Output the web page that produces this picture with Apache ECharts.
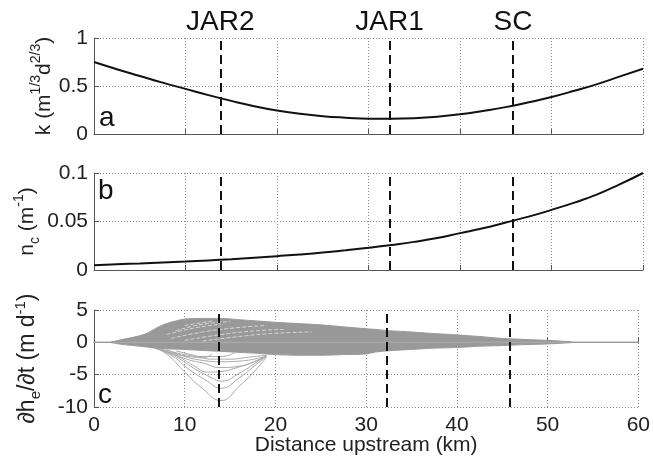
<!DOCTYPE html>
<html lang="en">
<head>
    <meta charset="utf-8">
    <title>k, nc and dhe/dt along the river</title>
    <script src="https://cdn.jsdelivr.net/npm/echarts@6/dist/echarts.min.js"></script>
    <style>
        html, body { margin: 0; padding: 0; background: #fff; }
        #main { width: 653px; height: 462px; }
    </style>
</head>
<body>
<div id="main"></div>
<script type="text/javascript">
    // 数据
    var distanceKm = [0, 2.5, 5, 7.5, 10, 12.5, 15, 17.5, 20, 22.5, 25, 27.5, 30,
        32.5, 35, 37.5, 40, 42.5, 45, 47.5, 50, 52.5, 55, 57.5, 60];
    var kValues = [0.75, 0.675, 0.605, 0.535, 0.47, 0.405, 0.345, 0.29, 0.245, 0.21, 0.185, 0.17, 0.16,
        0.16, 0.165, 0.18, 0.205, 0.24, 0.28, 0.33, 0.385, 0.45, 0.52, 0.60, 0.68];
    var ncValues = [0.005, 0.006, 0.0068, 0.0077, 0.0087, 0.0099, 0.0112, 0.0127, 0.0143, 0.016, 0.018, 0.0204, 0.023,
        0.0258, 0.029, 0.033, 0.038, 0.043, 0.049, 0.055, 0.062, 0.0695, 0.078, 0.0885, 0.1];

    // envelope of dhe/dt curves
    var envKm = [0, 1.5, 3, 5, 6, 7, 8, 9, 10, 12, 14, 16, 18, 20, 22.5, 25, 27.5, 30, 31, 32.5,
        35, 37.5, 40, 42.5, 45, 47.5, 50, 52.5, 53, 60];
    var envUpper = [0, 0, 0.4, 1.0, 1.5, 2.3, 2.9, 3.3, 3.6, 3.7, 3.7, 3.5, 3.3, 3.1, 2.9, 2.7, 2.4, 2.1, 2.0, 1.8,
        1.6, 1.35, 1.15, 0.9, 0.6, 0.45, 0.3, 0.1, 0, 0];
    var envLower = [0, 0, -0.3, -0.6, -0.75, -0.9, -1.0, -1.05, -1.1, -1.25, -1.4, -1.55, -1.7, -1.9, -2.0, -2.0, -1.9, -1.8, -1.5, -1.3,
        -1.1, -0.9, -0.8, -0.6, -0.5, -0.35, -0.25, -0.05, 0, 0];
    var baselineKm = [0, 60];
    var baselineVal = [0, 0];

    // individual curves dipping below the envelope
    var dipCurves = [
        [[6.5, -0.8], [8, -1.8], [10, -4.6], [12, -7.2], [14, -9.0], [16, -6.8], [18, -4.0], [19, -2.3]],
        [[6.5, -0.8], [8.5, -2.0], [10.5, -4.2], [12.5, -6.0], [14, -7.1], [16, -5.5], [18, -3.3], [19, -2.2]],
        [[7, -0.9], [9, -2.2], [11, -4.0], [13, -5.5], [14, -6.0], [16, -4.8], [18, -3.0], [19, -2.1]],
        [[7, -0.9], [9, -2.0], [11, -3.6], [12.5, -4.6], [14, -4.5], [16, -3.8], [18, -2.8], [19, -2.1]],
        [[7.5, -1.0], [10, -2.5], [12, -3.2], [14, -3.9], [16, -3.7], [18, -2.8], [19, -2.1]],
        [[8, -1.1], [10, -2.2], [12, -2.8], [14, -3.0], [16, -2.9], [18, -2.5], [19, -2.1]],
        [[7, -1.0], [9, -1.8], [11, -2.3], [12, -2.4], [13, -1.8]],
        [[8, -1.2], [10, -1.9], [12, -2.2], [14, -2.2], [15.5, -1.6]],
        [[9, -1.3], [11, -2.0], [13, -2.6], [15, -2.6], [17, -2.3], [19, -2.0]]
    ];
    // lighter curves seen inside the band
    var streakCurves = [
        [[8, 1.2], [11, 2.2], [14, 2.8]],
        [[9, 1.8], [12, 2.8], [15, 3.2]],
        [[8.5, 0.6], [12, 1.6], [16, 2.3], [19, 2.6]],
        [[10, 0.3], [14, 1.2], [18, 1.8], [21, 2.0]],
        [[12, 0.2], [16, 0.9], [20, 1.4], [24, 1.6]],
        [[10, 2.6], [13, 3.3]]
    ];

    var siteNames = ['JAR2', 'JAR1', 'SC'];
    var siteKm = [13.8, 32.3, 45.8];
    var xTicks = [0, 60, 10];

    function pairs(xs, ys) {
        return xs.map(function (x, i) { return [x, ys[i]]; });
    }

    var font = 'Liberation Sans, Arial, Helvetica, sans-serif';
    var axisColor = '#555';
    var gridLine = { show: true, lineStyle: { color: '#888', width: 1, type: [1, 2] } };

    function nameRich(size) {
        var small = Math.round(size * 0.67);
        return {
            n: { fontSize: size, lineHeight: 30, verticalAlign: 'middle', color: '#222', fontFamily: font },
            sup: { fontSize: small, lineHeight: small, verticalAlign: 'top', color: '#222', fontFamily: font },
            sub: { fontSize: small, lineHeight: small, verticalAlign: 'bottom', color: '#222', fontFamily: font }
        };
    }

    function xAxisFor(i) {
        return {
            type: 'value', gridIndex: i, min: xTicks[0], max: xTicks[1], interval: xTicks[2],
            axisLine: { lineStyle: { color: axisColor, width: 1 } },
            axisTick: { inside: true, length: 5, lineStyle: { color: axisColor } },
            axisLabel: { show: i === 2, fontSize: 21, color: '#222', fontFamily: font, margin: 8 },
            splitLine: gridLine,
            name: i === 2 ? 'Distance upstream (km)' : '',
            nameLocation: 'middle', nameGap: 28, nameMoveOverlap: false,
            nameTextStyle: { fontSize: 21, color: '#222', fontFamily: font }
        };
    }

    function yAxisFor(i, min, max, interval, name, gap, size) {
        return {
            type: 'value', gridIndex: i, min: min, max: max, interval: interval,
            axisLine: { show: true, lineStyle: { color: axisColor, width: 1 } },
            axisTick: { show: true, inside: true, length: 5, lineStyle: { color: axisColor } },
            axisLabel: { fontSize: 21, color: '#222', fontFamily: font, margin: 6 },
            splitLine: gridLine,
            name: name, nameLocation: 'middle', nameRotate: 90, nameGap: gap,
            nameMoveOverlap: false,
            nameTextStyle: { rich: nameRich(size) }
        };
    }

    function siteLines(withLabel) {
        return {
            silent: true,
            symbol: ['none', 'none'],
            lineStyle: { color: '#111', width: 2, type: [9, 5] },
            label: {
                show: withLabel, position: 'end', formatter: '{b}', distance: 2,
                fontSize: 28, color: '#111', fontFamily: font
            },
            data: siteKm.map(function (v, i) { return { xAxis: v, name: siteNames[i] }; })
        };
    }

    var series = [];
    series.push({
        type: 'line', xAxisIndex: 0, yAxisIndex: 0, smooth: true, symbol: 'none',
        lineStyle: { color: '#111', width: 2 }, data: pairs(distanceKm, kValues),
        markLine: siteLines(true)
    });
    series.push({
        type: 'line', xAxisIndex: 1, yAxisIndex: 1, smooth: true, symbol: 'none',
        lineStyle: { color: '#111', width: 2 }, data: pairs(distanceKm, ncValues),
        markLine: siteLines(false)
    });
    series.push({
        type: 'line', xAxisIndex: 2, yAxisIndex: 2, symbol: 'none',
        lineStyle: { color: '#b0b0b0', width: 1 }, data: pairs(baselineKm, baselineVal)
    });
    dipCurves.forEach(function (c) {
        series.push({
            type: 'line', xAxisIndex: 2, yAxisIndex: 2, smooth: true, symbol: 'none',
            lineStyle: { color: '#aaa', width: 1 }, data: c
        });
    });
    series.push({
        type: 'line', xAxisIndex: 2, yAxisIndex: 2, smooth: 0.3, symbol: 'none',
        lineStyle: { color: '#999', width: 1 }, areaStyle: { color: '#999', opacity: 1 },
        data: pairs(envKm, envUpper)
    });
    series.push({
        type: 'line', xAxisIndex: 2, yAxisIndex: 2, smooth: 0.3, symbol: 'none',
        lineStyle: { color: '#999', width: 1 }, areaStyle: { color: '#999', opacity: 1 },
        data: pairs(envKm, envLower)
    });
    streakCurves.forEach(function (c) {
        series.push({
            type: 'line', xAxisIndex: 2, yAxisIndex: 2, smooth: true, symbol: 'none',
            lineStyle: { color: '#d6d6d6', width: 1, type: [4, 2] }, data: c
        });
    });
    series.push({
        type: 'line', xAxisIndex: 2, yAxisIndex: 2, symbol: 'none',
        lineStyle: { opacity: 0 }, data: [], markLine: siteLines(false), z: 5
    });

    var myChart = echarts.init(document.getElementById('main'));
    myChart.setOption({
        animation: false,
        backgroundColor: '#fff',
        grid: [
            { left: 94, right: 10, top: 38, height: 96 },
            { left: 94, right: 10, top: 173, height: 97 },
            { left: 94, right: 10, top: 310, height: 97 }
        ],
        xAxis: [xAxisFor(0), xAxisFor(1), xAxisFor(2)],
        yAxis: [
            yAxisFor(0, 0, 1, 0.5, '{n|k (m}{sup|1/3}{n|d}{sup|2/3}{n|)}', 35, 21),
            yAxisFor(1, 0, 0.1, 0.05, '{n|n}{sub|c}{n| (m}{sup|-1}{n|)}', 52, 21),
            yAxisFor(2, -10, 5, 5, '{n|\u2202h}{sub|e}{n|/\u2202t (m d}{sup|-1}{n|)}', 51, 23)
        ],
        graphic: [
            { type: 'text', left: 99, top: 104, style: { text: 'a', fontSize: 28, fill: '#111', fontFamily: font } },
            { type: 'text', left: 98, top: 177, style: { text: 'b', fontSize: 28, fill: '#111', fontFamily: font } },
            { type: 'text', left: 98, top: 381, style: { text: 'c', fontSize: 28, fill: '#111', fontFamily: font } }
        ],
        series: series
    });
</script>
</body>
</html>
